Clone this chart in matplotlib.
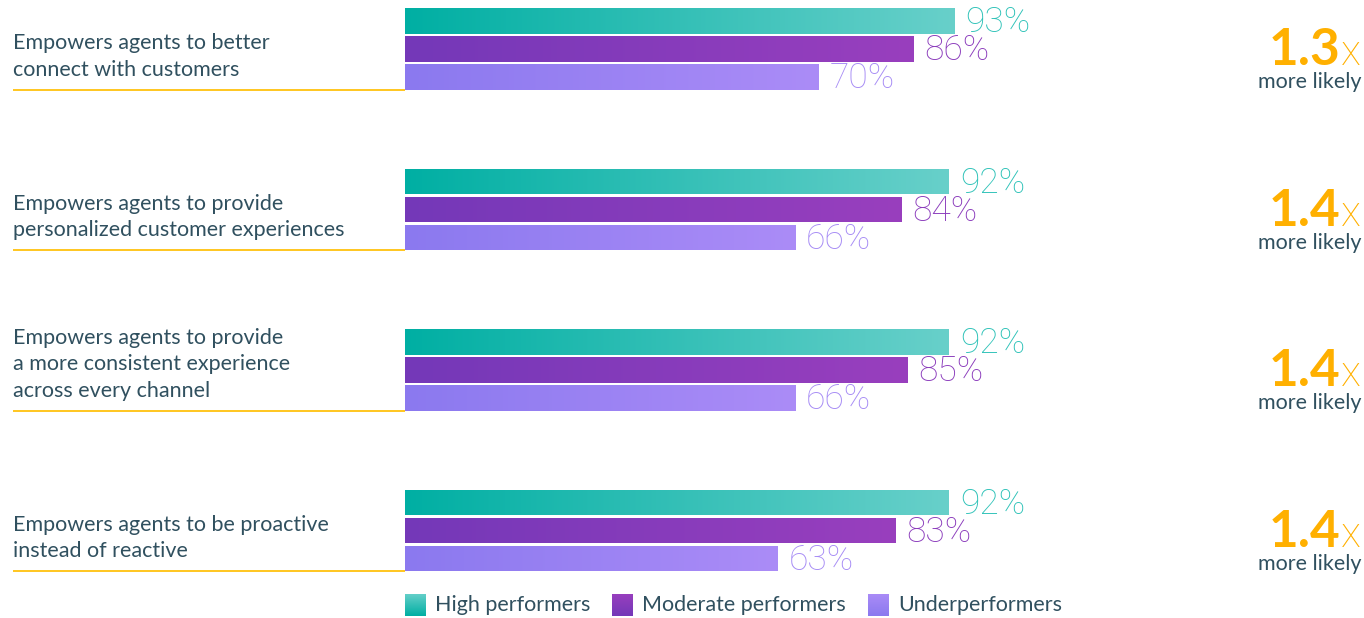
import matplotlib
matplotlib.use("Agg")
import matplotlib.pyplot as plt
import numpy as np
from matplotlib.colors import LinearSegmentedColormap
from matplotlib.transforms import blended_transform_factory

plt.rcParams['font.family'] = ['Lato', 'DejaVu Sans']

categories = [
    "Empowers agents to better\nconnect with customers",
    "Empowers agents to provide\npersonalized customer experiences",
    "Empowers agents to provide\na more consistent experience\nacross every channel",
    "Empowers agents to be proactive\ninstead of reactive",
]
series = ["High performers", "Moderate performers", "Underperformers"]
high = [93, 92, 92, 92]
moderate = [86, 84, 85, 83]
under = [70, 66, 66, 63]
multipliers = ["1.3", "1.4", "1.4", "1.4"]

grad_colors = [("#00AFA3", "#68D0CA"), ("#7438B8", "#993FBE"), ("#8B79EF", "#AB8CF7")]
label_colors = ["#2EC2B8", "#8B3CBC", "#A68BF5"]
text_color = "#30505F"
orange = "#FFB000"
line_color = "#FFC20E"

W, H = 1364, 618
fig = plt.figure(figsize=(W / 100, H / 100), dpi=100)
x0_px, x100_px = 405, 996
ax = fig.add_axes([x0_px / W, 0, (x100_px - x0_px) / W, 1])
ax.set_xlim(0, 100)
unit = 160.5
c0 = 49
ax.set_ylim((H - c0) / unit, (0 - c0) / unit)
ax.axis("off")

step = 0.175
bh = 0.157
ypos = np.arange(len(categories))
data = [high, moderate, under]
for s, vals in enumerate(data):
    bars = ax.barh(ypos + (s - 1) * step, vals, height=bh, color="none", edgecolor="none")
    cmap = LinearSegmentedColormap.from_list("g%d" % s, grad_colors[s])
    for b, v in zip(bars, vals):
        x, y, w, h = b.get_x(), b.get_y(), b.get_width(), b.get_height()
        im = ax.imshow(np.linspace(0, 1, 256).reshape(1, -1), cmap=cmap, aspect="auto",
                       extent=(x, x + w, y + h, y), interpolation="bicubic", zorder=2)
        im.set_clip_path(b)
        ax.annotate(f"{v}%", xy=(x + w, y + h / 2), xytext=(8, -1), textcoords="offset points",
                    ha="left", va="center", fontsize=25.5, family=["Roboto", "DejaVu Sans"],
                    fontweight="light", color=label_colors[s], annotation_clip=False)

tr = blended_transform_factory(fig.transFigure, ax.transData)
for i, cat in enumerate(categories):
    bottom = ypos[i] + step + bh / 2
    ax.plot([13 / W, x0_px / W], [bottom, bottom], transform=tr, color=line_color, lw=1.3,
            clip_on=False, solid_capstyle="butt")
    ax.text(13 / W, bottom - 14 / unit, cat, transform=tr, ha="left", va="baseline",
            fontsize=15.5, color=text_color, linespacing=1.4)
    # right side
    xt = ax.text(1361 / W, ypos[i] + 0.1, "x", transform=tr, ha="right", va="baseline",
                 fontsize=30, family=["Roboto", "DejaVu Sans"], fontweight="light", color=orange)
    ax.text(1361 / W, ypos[i] + 0.245, "more likely", transform=tr, ha="right", va="baseline",
            fontsize=15.5, color=text_color)
    fig.canvas.draw()
    bb = xt.get_window_extent()
    ax.text((bb.x0 - 1) / W, ypos[i] + 0.1, multipliers[i], transform=tr, ha="right",
            va="baseline", fontsize=37, fontweight="bold", color=orange)

# legend
legend_x = [405, 612, 868]
ly = 605
for s, name in enumerate(series):
    lx = legend_x[s]
    cmap = LinearSegmentedColormap.from_list("l%d" % s, grad_colors[s])
    lax = fig.add_axes([lx / W, (H - ly - 11) / H, 21 / W, 22 / H])
    lax.imshow(np.linspace(1, 0, 64).reshape(-1, 1), cmap=cmap, aspect="auto")
    lax.axis("off")
    fig.text((lx + 30) / W, (H - ly) / H, name, ha="left", va="center", fontsize=15.5,
             color=text_color)

fig.savefig("out.png", dpi=100)
